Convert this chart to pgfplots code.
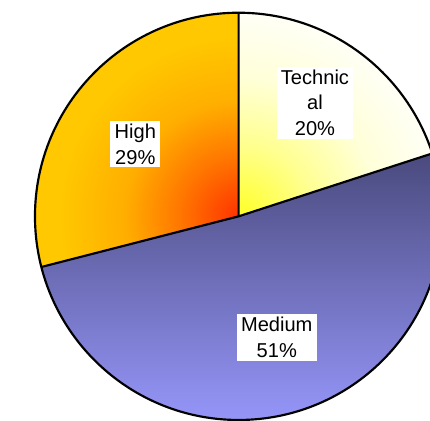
\documentclass[border=0pt]{standalone}
\usepackage{pgfplots}
\usepackage{pgfplotstable}
\pgfplotsset{compat=1.18}
\usepackage{fontspec}
\setmainfont{Liberation Sans}

% slice colours
\definecolor{hiC0}{HTML}{FF3300}
\definecolor{hiC1}{HTML}{FF7400}
\definecolor{hiC2}{HTML}{FFAE00}
\definecolor{hiC3}{HTML}{FFC800}
\definecolor{teC0}{HTML}{FFFF26}
\definecolor{teC1}{HTML}{FFFF90}
\definecolor{teC2}{HTML}{FFFFD8}
\definecolor{teC3}{HTML}{FFFFF6}
\definecolor{medTop}{HTML}{4A4A7E}
\definecolor{medBot}{HTML}{9999FF}

% radial shadings: 25bp is the rim of the pie
\pgfdeclareradialshading{highshade}{\pgfpoint{0bp}{0bp}}{%
  color(0bp)=(hiC0); color(7bp)=(hiC1); color(14bp)=(hiC2);
  color(22bp)=(hiC3); color(50bp)=(hiC3)}
\pgfdeclareradialshading{techshade}{\pgfpoint{0bp}{0bp}}{%
  color(0bp)=(teC0); color(9bp)=(teC1); color(17bp)=(teC2);
  color(25bp)=(teC3); color(50bp)=(teC3)}

% data label boxes
\tikzset{lbl/.style={fill=white, text=black, align=center, inner xsep=4.5pt,
  inner ysep=3pt, font=\fontsize{20.5}{26.5}\selectfont}}

\pgfplotstableread{
label value
Technical 20
Medium 51
High 29
}\pietable

\begin{document}
\pgfplotstablegetelem{0}{value}\of\pietable \pgfmathtruncatemacro\vTech{\pgfplotsretval}
\pgfplotstablegetelem{1}{value}\of\pietable \pgfmathtruncatemacro\vMed{\pgfplotsretval}
\pgfplotstablegetelem{2}{value}\of\pietable \pgfmathtruncatemacro\vHigh{\pgfplotsretval}
% slice boundaries, clockwise from twelve o'clock
\pgfmathsetmacro\aA{90}
\pgfmathsetmacro\aB{\aA-3.6*\vTech}
\pgfmathsetmacro\aC{\aB-3.6*\vMed}
\pgfmathsetmacro\aD{\aC-3.6*\vHigh}
\def\R{208pt}
\begin{tikzpicture}
\begin{axis}[
  width=417pt, height=430pt, scale only axis,
  axis lines=none, ticks=none,
  xmin=-221.5, xmax=195.5, ymin=-209, ymax=221,
  clip=true,
]
\coordinate (plotSW) at (rel axis cs:0,0);
\coordinate (plotNE) at (rel axis cs:1,1);
\begin{scope}
\clip (rel axis cs:0,0) rectangle (rel axis cs:1,1);
% Medium
\shade[top color=medTop, bottom color=medBot]
  (axis cs:0,0) -- ++(\aB:\R) arc[start angle=\aB, end angle=\aC, radius=\R] -- cycle;
% Technical
\begin{scope}
\clip (axis cs:0,0) -- ++(\aA:\R) arc[start angle=\aA, end angle=\aB, radius=\R] -- cycle;
\shade[shading=techshade] (axis cs:0,0) circle[radius=\R];
\end{scope}
% High
\begin{scope}
\clip (axis cs:0,0) -- ++(\aC:\R) arc[start angle=\aC, end angle=\aD, radius=\R] -- cycle;
\shade[shading=highshade] (axis cs:0,0) circle[radius=\R];
\end{scope}
% outlines
\draw[line width=2.2pt] (axis cs:0,0) circle[radius=\R];
\draw[line width=2.2pt, line join=round]
  (axis cs:0,0) -- ++(\aA:\R)
  (axis cs:0,0) -- ++(\aB:\R)
  (axis cs:0,0) -- ++(\aC:\R);
% data labels
\node[lbl] at (axis cs:78,116) {Technic\\al\\\vTech\%};
\node[lbl] at (axis cs:-105.5,74) {High\\\vHigh\%};
\node[lbl] at (axis cs:39,-124) {Medium\\\vMed\%};
\end{scope}
\end{axis}
\pgfresetboundingbox
\path[use as bounding box] (plotSW) rectangle (plotNE);
\end{tikzpicture}
\end{document}
